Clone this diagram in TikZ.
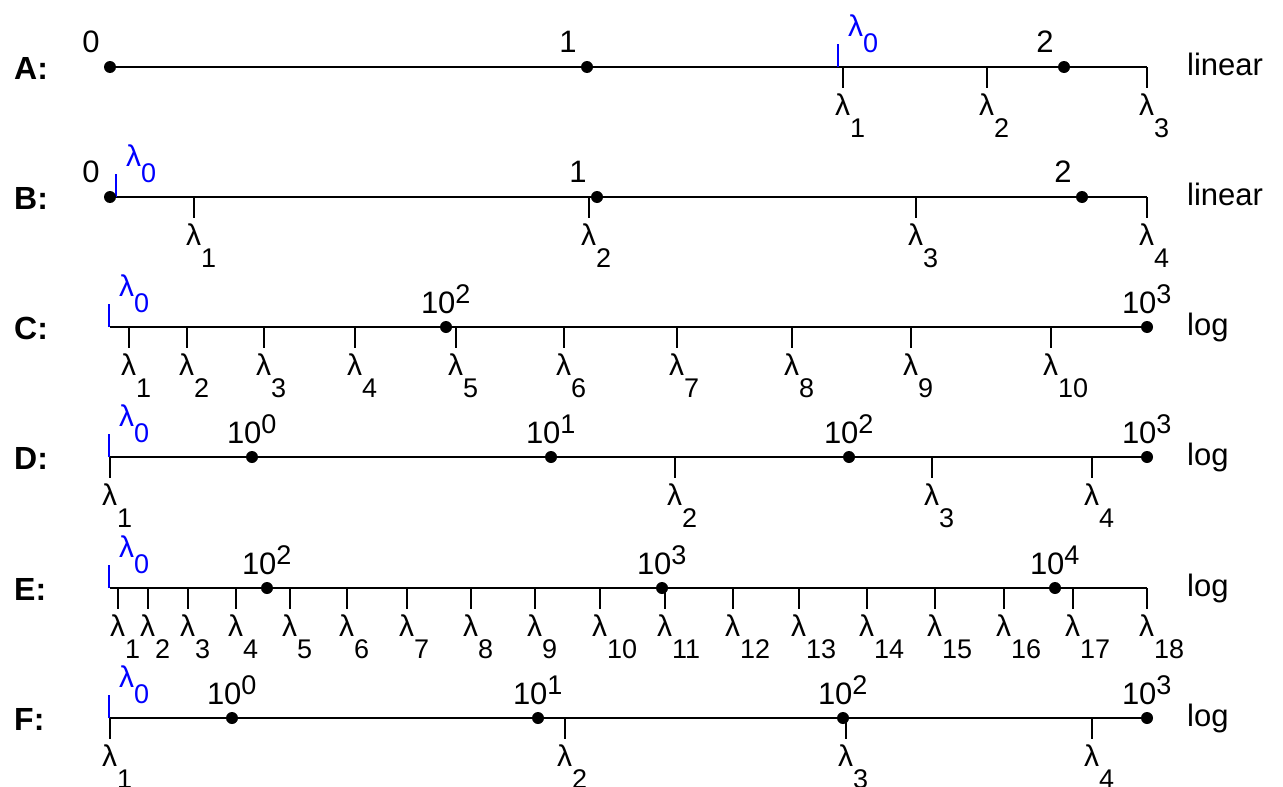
\documentclass[tikz,border=0pt]{standalone}
\usepackage{fontspec}
\setmainfont{Liberation Sans}
\newcommand\lamfont{\fontsize{30}{32}\selectfont}
\newcommand\scfont{\fontsize{27}{28}\selectfont}
\newcommand\mainfont{\fontsize{31}{36}\selectfont}
\newcommand\rowfont{\fontsize{32}{36}\selectfont}
\tikzset{
  axisline/.style={line width=2.4pt,black},
  tk/.style={line width=1.4pt,black},
  ztk/.style={line width=1.8pt,blue},
  dotnode/.style={circle,fill=black,inner sep=0pt,minimum size=12pt},
  lab/.style={inner sep=0pt,outer sep=0pt,font=\mainfont},
  rowlab/.style={inner sep=0pt,font=\rowfont\bfseries,anchor=base west},
  scalelab/.style={inner sep=0pt,font=\mainfont,anchor=base west},
}
% #1 y, #2 row name, #3 list x/k
\newcommand\lamticks[3]{%
  \foreach \x/\k in {#3} {
    \coordinate (#2-t\k) at (\x,#1);
    \draw[tk] (#2-t\k) -- ++(0,21);
    \node[lab,anchor=base west] (#2-l\k) at (\x-8,#1+48) {\lamfont λ\raisebox{-22pt}{\scfont\k}};
  }}
% #1 x, #2 y, #3 row name
\newcommand\lamzero[3]{%
  \coordinate (#3-z) at (#1,#2);
  \draw[ztk] (#3-z) -- ++(0,-23);
  \node[lab,blue,anchor=base west] (#3-l0) at (#1+10,#2-31) {\lamfont λ\raisebox{-16pt}{\scfont 0}};
}
% #1 y, #2 row name, #3 list x/digit
\newcommand\digdots[3]{%
  \foreach \x/\d in {#3} {
    \node[dotnode] (#2-d\d) at (\x,#1) {};
    \node[lab,anchor=base] (#2-n\d) at (\x-19,#1-15) {\d};
  }}
% #1 y, #2 row name, #3 list x/power
\newcommand\powdots[3]{%
  \foreach \x/\d in {#3} {
    \node[dotnode] (#2-d\d) at (\x,#1) {};
    \node[lab,anchor=base west] (#2-n\d) at (\x-25,#1-14) {10\raisebox{10pt}{\scfont\d}};
  }}
% #1 y, #2 row name, #3 letter, #4 scale word
\newcommand\axisrow[4]{%
  \coordinate (#2-s) at (109.5,#1);
  \coordinate (#2-e) at (1147,#1);
  \draw[axisline] (#2-s) -- (#2-e);
  \node[rowlab] (#2-name) at (14,#1+12.5) {#3};
  \node[scalelab] (#2-scale) at (1187,#1+8) {#4};
}
\begin{document}
\begin{tikzpicture}[x=1pt,y=-1pt]
\useasboundingbox (0,0) rectangle (1283,787);
% Row A
\axisrow{67}{A}{A:}{linear}
\lamticks{67}{A}{843/1,987/2,1147/3}
\lamzero{838}{67}{A}
\digdots{67}{A}{110/0,587/1,1064/2}
% Row B
\axisrow{197}{B}{B:}{linear}
\lamticks{197}{B}{194/1,589/2,916/3,1147/4}
\lamzero{116}{197}{B}
\digdots{197}{B}{110/0,597/1,1082/2}
% Row C
\axisrow{327}{C}{C:}{log}
\lamticks{327}{C}{129/1,187/2,264/3,355/4,456/5,564/6,677/7,792/8,911/9,1051/10}
\lamzero{109}{327}{C}
\powdots{327}{C}{446/2,1147/3}
% Row D
\axisrow{457}{D}{D:}{log}
\lamticks{457}{D}{110/1,675/2,932/3,1092/4}
\lamzero{109}{457}{D}
\powdots{457}{D}{252/0,551/1,849/2,1147/3}
% Row E
\axisrow{588}{E}{E:}{log}
\lamticks{588}{E}{118/1,148/2,188/3,236/4,290/5,347/6,407/7,471/8,535/9,600/10,665/11,733/12,799/13,867/14,935/15,1004/16,1073/17,1147/18}
\lamzero{109}{588}{E}
\powdots{588}{E}{267/2,662/3,1055/4}
% Row F
\axisrow{718}{F}{F:}{log}
\lamticks{718}{F}{110/1,565/2,846/3,1092/4}
\lamzero{109}{718}{F}
\powdots{718}{F}{232/0,538/1,843/2,1147/3}
\end{tikzpicture}
\end{document}
